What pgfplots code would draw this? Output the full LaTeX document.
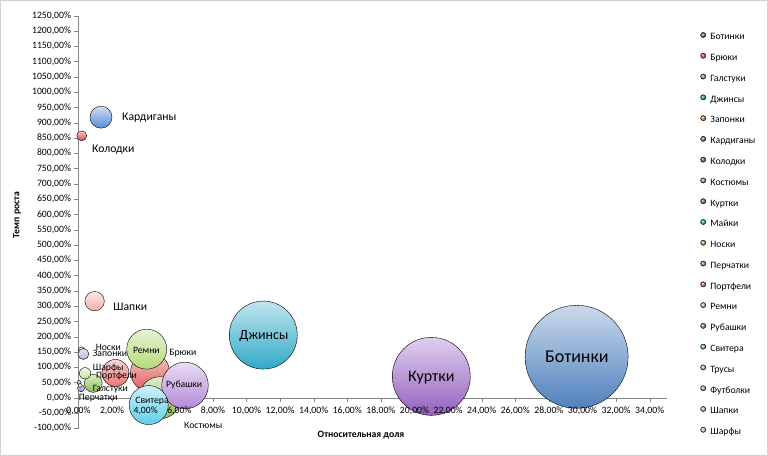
\documentclass[border=0pt]{standalone}
\usepackage{pgfplots}
\pgfplotsset{compat=1.18}
\usepackage{fontspec}
\setmainfont{Carlito}
\pgfdeclareplotmark{empty}{}
\definecolor{axisgray}{HTML}{868686}
\definecolor{cBot}{HTML}{4F81BD}
\definecolor{cBru}{HTML}{E05A5A}
\definecolor{cGal}{HTML}{8DBF55}
\definecolor{cDzh}{HTML}{31A9C8}
\definecolor{cZap}{HTML}{F79646}
\definecolor{cKar}{HTML}{5A8FD8}
\definecolor{cKol}{HTML}{D94A4A}
\definecolor{cKos}{HTML}{8FC050}
\definecolor{cKur}{HTML}{9461C0}
\definecolor{cMai}{HTML}{3CB4D0}
\definecolor{cNos}{HTML}{F79646}
\definecolor{cPer}{HTML}{6D9BE0}
\definecolor{cPor}{HTML}{EC7373}
\definecolor{cRem}{HTML}{B2DA78}
\definecolor{cRub}{HTML}{B48AD8}
\definecolor{cSvi}{HTML}{5FCFEA}
\definecolor{cTru}{HTML}{F9B27A}
\definecolor{cFut}{HTML}{B3B3DC}
\definecolor{cSha}{HTML}{F2AFAF}
\definecolor{cShr}{HTML}{C8E6A8}
\newcommand\lab{\fontsize{9.7bp}{11bp}\selectfont}
\newcommand\labm{\fontsize{11.7bp}{13bp}\selectfont}
\pgfplotsset{
  bubble/.style={scatter, only marks, mark=empty,
    visualization depends on={\thisrow{r}\as\rad},
    scatter/@pre marker code/.code={\shade[top color=#1!30!white, bottom color=#1] (0pt,0pt) circle[radius=\rad bp];},
    scatter/@post marker code/.code={},
    legend image code/.code={\shade[ball color=#1] (2.6bp,0.5ex) circle[radius=2.6bp];}},
  frame/.style={
    at={(78.5bp,27.7bp)}, anchor=south west,
    scale only axis, width=588bp, height=412.6bp,
    xmin=0, xmax=35, ymin=-100, ymax=1250,
    axis lines=middle,
    hide obscured x ticks=false, hide obscured y ticks=false,
    xtick={0,2,...,34},
    tick align=outside, major tick length=4bp,
    /pgf/number format/assume math mode=true,
    xticklabel={\pgfmathprintnumber[fixed,fixed zerofill,precision=2,use comma,1000 sep={}]{\tick}\%},
    yticklabel={\pgfmathprintnumber[fixed,fixed zerofill,precision=2,use comma,1000 sep={}]{\tick}\%},
    ticklabel style={font=\lab},
    xticklabel style={yshift=-2bp},
    clip=false},
}
\begin{document}
\begin{tikzpicture}
\useasboundingbox (0,0) rectangle (768bp,456bp);
\fill[white] (0,0) rectangle (768bp,456bp);
\draw[black!18, line width=1bp] (0.5bp,0.5bp) rectangle (767.5bp,455.5bp);
\begin{axis}[frame,
  axis line style={-, draw=axisgray}, tick style={draw=axisgray},
  ytick={-100,-50,...,1250},
  xticklabel style={opacity=0},
  xlabel={Относительная доля}, ylabel={Темп роста},
  xlabel style={at={(axis description cs:0.4804,-0.017)}, anchor=center, font=\bfseries\lab},
  ylabel style={at={(axis description cs:-0.1046,0.517)}, anchor=center, rotate=90, font=\bfseries\lab},
  legend cell align=left,
  legend style={at={(1.0577,0.96)}, anchor=north west, draw=none, fill=none,
    inner sep=0pt, outer sep=0pt, row sep=11.1bp, column sep=4.4bp, font=\lab,
    nodes={inner sep=0pt, text height=7bp, text depth=2bp}},
]
\addplot[bubble=cBot] table[row sep=\\] {x y r\\ 29.65 134 51.5\\};
\addlegendentry{Ботинки}
\addplot[bubble=cBru] table[row sep=\\] {x y r\\ 4.26 84 19.5\\};
\addlegendentry{Брюки}
\addplot[bubble=cGal] table[row sep=\\] {x y r\\ 0.88 47 9\\};
\addlegendentry{Галстуки}
\addplot[bubble=cDzh] table[row sep=\\] {x y r\\ 11.0 205 34\\};
\addlegendentry{Джинсы}
\addplot[bubble=cZap] table[row sep=\\] {x y r\\ 0.2 150 2.5\\};
\addlegendentry{Запонки}
\addplot[bubble=cKar] table[row sep=\\] {x y r\\ 1.34 918 11\\};
\addlegendentry{Кардиганы}
\addplot[bubble=cKol] table[row sep=\\] {x y r\\ 0.19 857 5\\};
\addlegendentry{Колодки}
\addplot[bubble=cKos] table[row sep=\\] {x y r\\ 4.85 0 21\\};
\addlegendentry{Костюмы}
\addplot[bubble=cKur] table[row sep=\\] {x y r\\ 21.0 70 39\\};
\addlegendentry{Куртки}
\addplot[bubble=cMai] table[row sep=\\] {x y r\\ 0.03 50 2\\};
\addlegendentry{Майки}
\addplot[bubble=cNos] table[row sep=\\] {x y r\\ 0.19 155 3.5\\};
\addlegendentry{Носки}
\addplot[bubble=cPer] table[row sep=\\] {x y r\\ 0.15 31 3.5\\};
\addlegendentry{Перчатки}
\addplot[bubble=cPor] table[row sep=\\] {x y r\\ 2.2 81 13.5\\};
\addlegendentry{Портфели}
\addplot[bubble=cRem] table[row sep=\\] {x y r\\ 4.06 159 20\\};
\addlegendentry{Ремни}
\addplot[bubble=cRub] table[row sep=\\] {x y r\\ 6.34 40 23.3\\};
\addlegendentry{Рубашки}
\addplot[bubble=cSvi] table[row sep=\\] {x y r\\ 4.18 -24 19.5\\};
\addlegendentry{Свитера}
\addplot[bubble=cTru] table[row sep=\\] {x y r\\ 0.1 40 2\\};
\addlegendentry{Трусы}
\addplot[bubble=cFut] table[row sep=\\] {x y r\\ 0.29 143 5.5\\};
\addlegendentry{Футболки}
\addplot[bubble=cSha] table[row sep=\\] {x y r\\ 0.96 316 9.7\\};
\addlegendentry{Шапки}
\addplot[bubble=cShr] table[row sep=\\] {x y r\\ 0.39 80 5.7\\};
\addlegendentry{Шарфы}
% anchor points of the data labels
\coordinate (lBot) at (axis cs:29.67,133);
\coordinate (lKur) at (axis cs:21.0,64.5);
\coordinate (lDzh) at (axis cs:11.04,202);
\coordinate (lKar) at (axis cs:2.59,917);
\coordinate (lKol) at (axis cs:0.80,810);
\coordinate (lSha) at (axis cs:2.07,298);
\coordinate (lNos) at (axis cs:1.02,165);
\coordinate (lZap) at (axis cs:0.845,144);
\coordinate (lShr) at (axis cs:0.845,96);
\coordinate (lPor) at (axis cs:1.04,72);
\coordinate (lGal) at (axis cs:0.845,27.5);
\coordinate (lPer) at (axis cs:0.012,-2);
\coordinate (lRem) at (axis cs:4.04,156);
\coordinate (lBru) at (axis cs:5.40,145);
\coordinate (lRub) at (axis cs:6.29,41.6);
\coordinate (lSvi) at (axis cs:4.375,-10.8);
\coordinate (lKos) at (axis cs:6.28,-90);
\end{axis}
% x tick labels again, above the bubbles (as in the reference)
\begin{axis}[frame, axis line style={draw=none}, tick style={draw=none}, ytick=\empty]
\end{axis}
\node[inner sep=0, font=\fontsize{18bp}{20bp}\selectfont] at (lBot) {Ботинки};
\node[inner sep=0, font=\fontsize{16bp}{18bp}\selectfont] at (lKur) {Куртки};
\node[inner sep=0, font=\fontsize{14bp}{16bp}\selectfont] at (lDzh) {Джинсы};
\node[anchor=west, inner sep=0, font=\labm] at (lKar) {Кардиганы};
\node[anchor=west, inner sep=0, font=\labm] at (lKol) {Колодки};
\node[anchor=west, inner sep=0, font=\labm] at (lSha) {Шапки};
\node[anchor=west, inner sep=0, font=\lab] at (lNos) {Носки};
\node[anchor=west, inner sep=0, font=\lab] at (lZap) {Запонки};
\node[anchor=west, inner sep=0, font=\lab] at (lShr) {Шарфы};
\node[anchor=west, inner sep=0, font=\lab] at (lPor) {Портфели};
\node[anchor=west, inner sep=0, font=\lab] at (lGal) {Галстуки};
\node[anchor=west, inner sep=0, font=\lab] at (lPer) {Перчатки};
\node[inner sep=0, font=\lab] at (lRem) {Ремни};
\node[anchor=west, inner sep=0, font=\lab] at (lBru) {Брюки};
\node[inner sep=0, font=\lab] at (lRub) {Рубашки};
\node[inner sep=0, font=\lab] at (lSvi) {Свитера};
\node[anchor=west, inner sep=0, font=\lab] at (lKos) {Костюмы};
\end{tikzpicture}
\end{document}
